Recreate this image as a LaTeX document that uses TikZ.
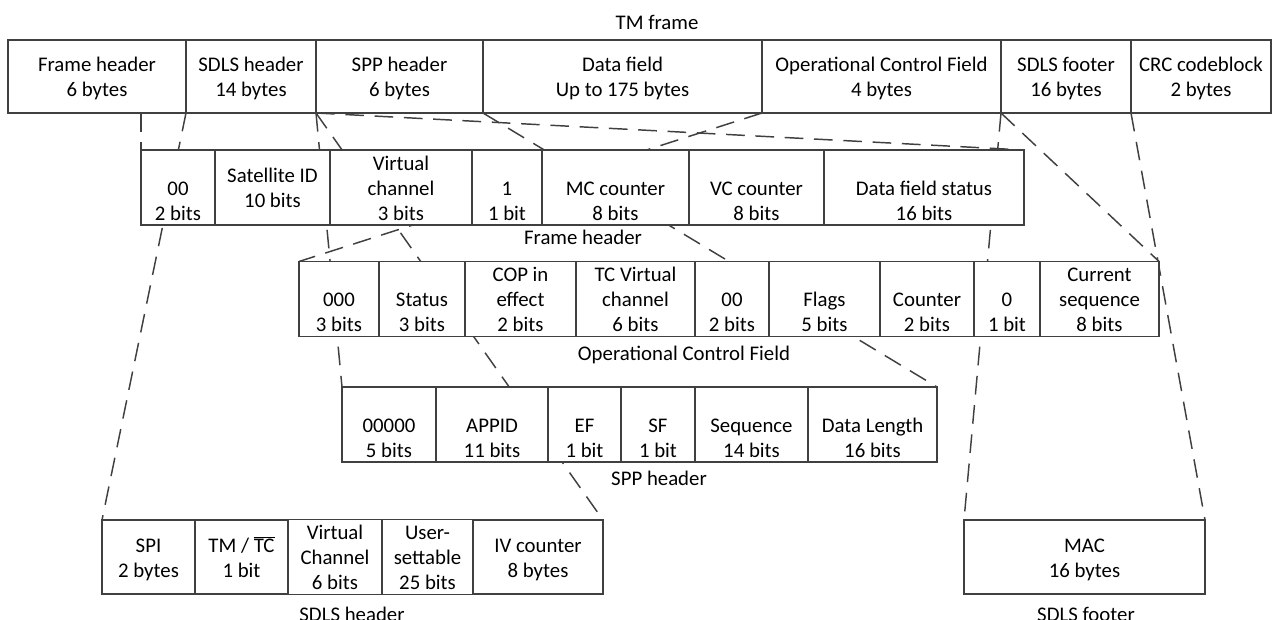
\documentclass[tikz,border=0pt]{standalone}
\usepackage{fontspec}
\setmainfont{Carlito}
\usetikzlibrary{backgrounds}
\definecolor{ln}{RGB}{64,64,64}
\newcommand{\tstr}{\rule{0pt}{15.125pt}}
\newcommand{\bstr}{\rule[-3.625pt]{0pt}{3.625pt}}
\newcommand{\Two}[2]{\tstr#1\\#2\bstr}
\newcommand{\Thr}[3]{\tstr#1\\#2\\#3\bstr}
\newcommand{\cellbox}[6]{\node[cellst, minimum width={(#3-#2)*0.75pt}, minimum height={(#5-#4)*0.75pt}] (#1) at ({(#2+#3)/2},{(#4+#5)/2}) {#6};}
\tikzset{
  cellst/.style={draw=ln, line width=1.1pt, fill=white, inner sep=0pt, outer sep=0pt, align=center, text=black, font=\fontsize{15.6}{18.75}\selectfont},
  lbl/.style={inner sep=0pt, outer sep=0pt, text=black, font=\fontsize{15.6}{18.75}\selectfont, anchor=base},
  dl/.style={draw=ln, line width=1.1pt, dash pattern=on 14pt off 8pt}
}
\begin{document}
\begin{tikzpicture}[x=0.75pt,y=-0.75pt]
\useasboundingbox (0,0) rectangle (1274,620);
% labels
\node[lbl] (lTM) at (657,30) {TM frame};
\node[lbl] (lFH) at (583,245) {Frame header};
\node[lbl] (lOCF) at (684,360) {Operational Control Field};
\node[lbl] (lSPP) at (659,485) {SPP header};
\node[lbl] (lSDLS) at (352,621) {SDLS header};
\node[lbl] (lFoot) at (1086,621) {SDLS footer};
% top row
\cellbox{tFH}{8}{186}{40}{113}{\Two{Frame header}{6 bytes}}
\cellbox{tSDLS}{186}{316}{40}{113}{\Two{SDLS header}{14 bytes}}
\cellbox{tSPP}{316}{483}{40}{113}{\Two{SPP header}{6 bytes}}
\cellbox{tDF}{483}{762}{40}{113}{\Two{Data field}{Up to 175 bytes}}
\cellbox{tOCF}{762}{1001}{40}{113}{\Two{Operational Control Field}{4 bytes}}
\cellbox{tFoot}{1001}{1131}{40}{113}{\Two{SDLS footer}{16 bytes}}
\cellbox{tCRC}{1131}{1271}{40}{113}{\Two{CRC codeblock}{2 bytes}}
% frame header row
\cellbox{f00}{141}{215}{150}{225}{\Thr{}{00}{2 bits}}
\cellbox{fSat}{215}{330}{150}{225}{\Two{Satellite ID}{10 bits}}
\cellbox{fVC}{330}{472}{150}{225}{\Thr{Virtual}{channel}{3 bits}}
\cellbox{fOne}{472}{542}{150}{225}{\Thr{}{1}{1 bit}}
\cellbox{fMC}{542}{689}{150}{225}{\Thr{}{MC counter}{8 bits}}
\cellbox{fVCc}{689}{824}{150}{225}{\Thr{}{VC counter}{8 bits}}
\cellbox{fDFS}{824}{1024}{150}{225}{\Thr{}{Data field status}{16 bits}}
% OCF row
\cellbox{o000}{299}{379}{262}{336}{\Thr{}{000}{3 bits}}
\cellbox{oSt}{379}{465}{262}{336}{\Thr{}{Status}{3 bits}}
\cellbox{oCOP}{465}{576}{262}{336}{\Thr{COP in}{effect}{2 bits}}
\cellbox{oTCV}{576}{695}{262}{336}{\Thr{TC Virtual}{channel}{6 bits}}
\cellbox{o00}{695}{769}{262}{336}{\Thr{}{00}{2 bits}}
\cellbox{oFl}{769}{880}{262}{336}{\Thr{}{Flags}{5 bits}}
\cellbox{oCnt}{880}{974}{262}{336}{\Thr{}{Counter}{2 bits}}
\cellbox{oZero}{974}{1040}{262}{336}{\Thr{}{0}{1 bit}}
\cellbox{oCur}{1040}{1159}{262}{336}{\Thr{Current}{sequence}{8 bits}}
% SPP row
\cellbox{p00000}{342}{436}{387}{462}{\Thr{}{00000}{5 bits}}
\cellbox{pAPP}{436}{548}{387}{462}{\Thr{}{APPID}{11 bits}}
\cellbox{pEF}{548}{621}{387}{462}{\Thr{}{EF}{1 bit}}
\cellbox{pSF}{621}{695}{387}{462}{\Thr{}{SF}{1 bit}}
\cellbox{pSeq}{695}{808}{387}{462}{\Thr{}{Sequence}{14 bits}}
\cellbox{pDL}{808}{937}{387}{462}{\Thr{}{Data Length}{16 bits}}
% SDLS header row
\cellbox{sSPI}{102}{195}{520}{594}{\Two{SPI}{2 bytes}}
\cellbox{sTM}{195}{288}{520}{594}{\Two{TM / $\overline{\mbox{TC}}$}{1 bit}}
\cellbox{sVC}{288}{382}{520}{594}{\Thr{Virtual}{Channel}{6 bits}}
\cellbox{sUS}{382}{473}{520}{594}{\Thr{User-}{settable}{25 bits}}
\cellbox{sIV}{473}{603}{520}{594}{\Two{IV counter}{8 bytes}}
% SDLS footer
\cellbox{mac}{964}{1205}{520}{594}{\Two{MAC}{16 bytes}}
% dashed connectors
\begin{pgfonlayer}{background}
\draw[dl] (f00.north west |- tFH.south) -- (f00.north west);
\draw[dl] (tSPP.south west) -- (fDFS.north east);
\draw[dl] (tSDLS.south west) -- (sSPI.north west);
\draw[dl] (tSDLS.south east) -- (sIV.north east);
\draw[dl] (tSPP.south west) -- (p00000.north west);
\draw[dl] (tSPP.south east) -- (pDL.north east);
\draw[dl] (tOCF.south west) -- (o000.north west);
\draw[dl] (tOCF.south east) -- (oCur.north east);
\draw[dl] (tFoot.south west) -- (mac.north west);
\draw[dl] (tFoot.south east) -- (mac.north east);
\end{pgfonlayer}
\end{tikzpicture}
\end{document}
